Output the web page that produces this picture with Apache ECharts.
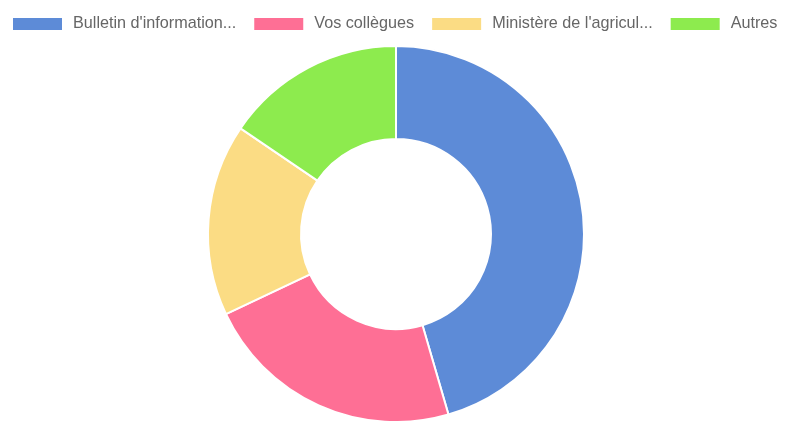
<!DOCTYPE html>
<html>
<head>
<meta charset="utf-8">
<script src="https://cdn.jsdelivr.net/npm/echarts@6/dist/echarts.min.js"></script>
<style>
  html, body { margin: 0; padding: 0; background: #fff; }
  #chart { width: 785px; height: 421px; }
</style>
</head>
<body>
<div id="chart"></div>
<script>
// legend labels as shown (already truncated in the source)
const categories = ["Bulletin d'information...", 'Vos collègues', "Ministère de l'agricul...", 'Autres']
const values = [91, 45, 33, 31]
const colors = ['#5d8bd7', '#fe6f95', '#fbdc84', '#8deb4e']

const chart = echarts.init(document.getElementById('chart'))

chart.setOption({
  animation: false,
  color: colors,
  legend: {
    top: 16,
    left: 11,
    width: 774,
    padding: 0,
    itemWidth: 51,
    itemHeight: 14,
    itemGap: 16,
    icon: 'rect',
    textStyle: {
      fontFamily: 'Liberation Sans, Arial, sans-serif',
      fontSize: 16.2,
      color: '#666',
      padding: [0, 0, 0, 5]
    },
    data: categories
  },
  series: [
    {
      type: 'pie',
      center: [396, 234],
      radius: [95, 188],
      startAngle: 90,
      label: { show: false },
      labelLine: { show: false },
      itemStyle: { borderColor: '#fff', borderWidth: 2 },
      emphasis: { disabled: true },
      data: categories.map((name, i) => ({ name, value: values[i] }))
    }
  ]
})
</script>
</body>
</html>
